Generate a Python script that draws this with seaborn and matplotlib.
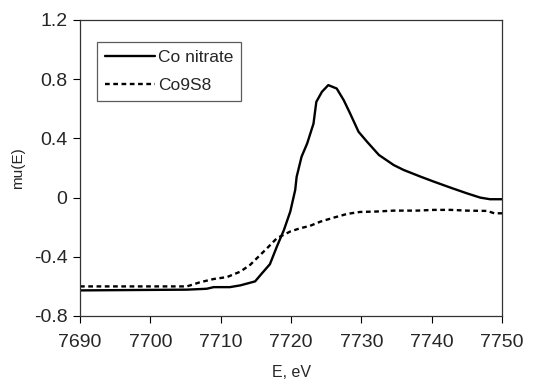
import numpy as np
import pandas as pd
import matplotlib
matplotlib.use("Agg")
import matplotlib.pyplot as plt
import seaborn as sns

# Data
nitrate_E = [7690, 7705.2, 7708, 7709, 7711.3, 7712.8, 7714.9, 7715.9, 7717, 7718,
             7719, 7719.9, 7720.6, 7720.8, 7721.5, 7722.3, 7723.2, 7723.6, 7724.4,
             7725.3, 7726.5, 7727.5, 7728.4, 7729.6, 7730.8, 7732.5, 7734.6, 7736,
             7738.4, 7740.3, 7742.7, 7745, 7746.9, 7748.3, 7750]
nitrate_mu = [-0.627, -0.622, -0.616, -0.605, -0.605, -0.593, -0.566, -0.51, -0.45, -0.33,
              -0.218, -0.094, 0.052, 0.14, 0.276, 0.366, 0.5, 0.647, 0.715,
              0.76, 0.737, 0.658, 0.569, 0.445, 0.378, 0.288, 0.22, 0.187,
              0.142, 0.108, 0.067, 0.029, 0.0, -0.011, -0.011]

co9s8_E = [7690, 7705.2, 7707, 7709, 7710.9, 7712.8, 7714.2, 7715.4, 7716.6, 7718,
           7719.9, 7721.3, 7722.7, 7724.2, 7726.1, 7728, 7729.8, 7732.2, 7734.6,
           7737.9, 7740.3, 7742.7, 7745, 7747.9, 7748.9, 7750]
co9s8_mu = [-0.6, -0.6, -0.573, -0.55, -0.537, -0.5, -0.454, -0.398, -0.342, -0.274,
            -0.229, -0.207, -0.191, -0.162, -0.135, -0.11, -0.097, -0.094, -0.088,
            -0.088, -0.083, -0.083, -0.088, -0.09, -0.106, -0.106]

x_ticks = [7690, 7700, 7710, 7720, 7730, 7740, 7750]
y_ticks = [-0.8, -0.4, 0, 0.4, 0.8, 1.2]

sns.set_style("ticks")
plt.rcParams['font.family'] = ['Liberation Sans', 'DejaVu Sans']

df = pd.concat([
    pd.DataFrame({"E": nitrate_E, "mu": nitrate_mu, "sample": "Co nitrate"}),
    pd.DataFrame({"E": co9s8_E, "mu": co9s8_mu, "sample": "Co9S8"}),
])

fig = plt.figure(figsize=(5.43, 3.81), dpi=100)
ax = fig.add_axes([80/543, 65/381, 422/543, 296/381])

sns.lineplot(data=df[df["sample"] == "Co nitrate"], x="E", y="mu", ax=ax,
             color="black", linewidth=1.7, label="Co nitrate", sort=False)
sns.lineplot(data=df[df["sample"] == "Co9S8"], x="E", y="mu", ax=ax,
             color="black", linewidth=1.7, label="Co9S8", sort=False,
             linestyle=(0, (2, 1.5)))

ax.set_xlim(7690, 7750)
ax.set_ylim(-0.8, 1.2)
ax.set_xticks(x_ticks)
ax.set_yticks(y_ticks)
ax.set_yticklabels(["-0.8", "-0.4", "0", "0.4", "0.8", "1.2"])
ax.tick_params(axis="both", labelsize=14, length=5, width=0.8, color="black",
               direction="out", pad=4)
ax.tick_params(axis="x", pad=8)
for s in ax.spines.values():
    s.set_visible(True)
    s.set_color("#333333")
    s.set_linewidth(0.9)

ax.set_xlabel("E, eV", fontsize=11.5, labelpad=10)
ax.set_ylabel("mu(E)", fontsize=11, labelpad=6)

leg = ax.legend(loc="upper left", bbox_to_anchor=(0.04, 0.925), fontsize=12.5,
                frameon=True, fancybox=False, edgecolor="#333333",
                handlelength=2.9, handletextpad=0.15, borderpad=0.45,
                labelspacing=0.75, borderaxespad=0)
leg.get_frame().set_linewidth(0.9)

fig.savefig("out.png", dpi=100)
